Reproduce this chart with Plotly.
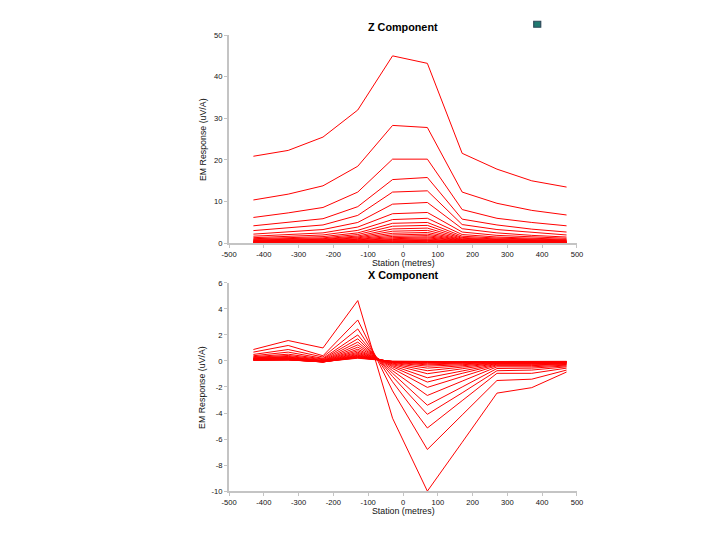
import plotly.graph_objects as go

stations = [-430, -330, -230, -130, -30, 70, 170, 270, 370, 470]

z_channels = [
    [20.9, 22.3, 25.5, 32.0, 45.0, 43.2, 21.6, 17.8, 15.0, 13.5],
    [10.4, 11.8, 13.8, 18.5, 28.3, 27.8, 12.3, 9.6, 7.9, 6.8],
    [6.2, 7.3, 8.6, 12.3, 20.2, 20.2, 8.1, 6.0, 5.0, 4.2],
    [4.2, 5.0, 5.9, 8.8, 15.3, 15.8, 5.8, 4.4, 3.4, 2.7],
    [3.05, 3.7, 4.4, 6.7, 12.3, 12.6, 4.5, 3.3, 2.6, 2.0],
    [2.2, 2.8, 3.3, 5.0, 9.4, 9.8, 3.5, 2.5, 1.9, 1.5],
    [1.7, 2.1, 2.5, 3.9, 7.1, 7.4, 2.7, 1.9, 1.5, 1.2],
    [1.35, 1.65, 2.0, 3.1, 5.7, 6.0, 2.1, 1.5, 1.2, 0.95],
    [1.1, 1.35, 1.6, 2.5, 4.8, 5.0, 1.7, 1.25, 1.0, 0.8],
    [0.95, 1.1, 1.3, 2.1, 4.1, 4.3, 1.4, 1.05, 0.85, 0.7],
    [0.8, 0.95, 1.1, 1.75, 3.45, 3.65, 1.2, 0.9, 0.72, 0.6],
    [0.7, 0.8, 0.95, 1.5, 2.9, 3.1, 1.0, 0.78, 0.62, 0.52],
    [0.6, 0.7, 0.82, 1.3, 2.4, 2.6, 0.88, 0.68, 0.55, 0.46],
    [0.52, 0.6, 0.72, 1.1, 2.0, 2.2, 0.77, 0.6, 0.48, 0.4],
    [0.45, 0.52, 0.62, 0.95, 1.65, 1.85, 0.68, 0.52, 0.43, 0.36],
    [0.4, 0.46, 0.54, 0.82, 1.35, 1.55, 0.6, 0.46, 0.38, 0.32],
    [0.35, 0.4, 0.47, 0.7, 1.1, 1.3, 0.52, 0.41, 0.34, 0.28],
    [0.3, 0.35, 0.41, 0.6, 0.9, 1.05, 0.45, 0.36, 0.3, 0.25],
    [0.26, 0.3, 0.36, 0.51, 0.74, 0.86, 0.4, 0.32, 0.27, 0.22],
    [0.22, 0.26, 0.31, 0.43, 0.6, 0.7, 0.35, 0.28, 0.24, 0.2],
    [0.19, 0.22, 0.26, 0.36, 0.48, 0.56, 0.3, 0.25, 0.21, 0.18],
    [0.16, 0.18, 0.22, 0.3, 0.38, 0.45, 0.26, 0.22, 0.18, 0.16],
    [0.13, 0.15, 0.18, 0.24, 0.3, 0.35, 0.22, 0.19, 0.16, 0.14],
    [0.1, 0.12, 0.14, 0.19, 0.23, 0.27, 0.18, 0.16, 0.13, 0.12],
    [0.08, 0.09, 0.11, 0.14, 0.17, 0.2, 0.14, 0.13, 0.11, 0.1],
    [0.06, 0.07, 0.08, 0.1, 0.12, 0.14, 0.11, 0.1, 0.09, 0.08],
    [0.04, 0.05, 0.06, 0.07, 0.08, 0.09, 0.08, 0.07, 0.06, 0.06],
    [0.02, 0.03, 0.03, 0.04, 0.05, 0.05, 0.05, 0.04, 0.04, 0.03],
]

x_channels = [
    [0.88, 1.57, 1.0, 4.64, -4.4, -10.0, -6.25, -2.47, -2.05, -0.85],
    [0.68, 1.19, 0.4, 3.15, -2.3, -6.8, -4.15, -1.5, -1.4, -0.7],
    [0.5, 0.88, 0.3, 2.46, -1.6, -5.15, -3.05, -0.95, -0.95, -0.55],
    [0.4, 0.68, 0.2, 2.0, -1.2, -4.1, -2.45, -0.75, -0.7, -0.45],
    [0.33, 0.52, 0.15, 1.7, -0.95, -3.4, -2.0, -0.58, -0.55, -0.38],
    [0.28, 0.42, 0.1, 1.45, -0.75, -2.65, -1.55, -0.45, -0.45, -0.32],
    [0.24, 0.35, 0.05, 1.24, -0.58, -2.03, -1.2, -0.36, -0.36, -0.27],
    [0.21, 0.3, 0.02, 1.06, -0.45, -1.62, -0.95, -0.3, -0.3, -0.23],
    [0.19, 0.26, 0.0, 0.9, -0.36, -1.29, -0.77, -0.25, -0.25, -0.2],
    [0.17, 0.23, -0.02, 0.78, -0.28, -0.98, -0.6, -0.21, -0.21, -0.17],
    [0.15, 0.2, -0.04, 0.67, -0.22, -0.75, -0.47, -0.18, -0.18, -0.15],
    [0.14, 0.18, -0.05, 0.58, -0.17, -0.55, -0.37, -0.15, -0.15, -0.13],
    [0.12, 0.16, -0.06, 0.5, -0.13, -0.4, -0.29, -0.13, -0.13, -0.11],
    [0.11, 0.14, -0.07, 0.44, -0.1, -0.3, -0.22, -0.11, -0.11, -0.1],
    [0.1, 0.12, -0.08, 0.39, -0.08, -0.22, -0.17, -0.09, -0.09, -0.08],
    [0.09, 0.11, -0.08, 0.35, -0.06, -0.16, -0.13, -0.08, -0.08, -0.07],
    [0.08, 0.1, -0.08, 0.31, -0.05, -0.12, -0.1, -0.07, -0.07, -0.06],
    [0.07, 0.09, -0.07, 0.27, -0.04, -0.09, -0.08, -0.06, -0.06, -0.05],
    [0.06, 0.08, -0.06, 0.24, -0.03, -0.07, -0.06, -0.05, -0.05, -0.04],
    [0.05, 0.07, -0.05, 0.21, -0.02, -0.05, -0.05, -0.04, -0.04, -0.03],
]

x_tickvals = [-500, -400, -300, -200, -100, 0, 100, 200, 300, 400, 500]
x_ticktext = ["-500", "-400", "-300", "-200", "-100", "0", "100", "200", "300", "400", "500"]
z_tickvals = [0, 10, 20, 30, 40, 50]
z_ticktext = ["0", "10", "20", "30", "40", "50"]
xc_tickvals = [-10, -8, -6, -4, -2, 0, 2, 4, 6]
xc_ticktext = ["-10", "-8", "-6", "-4", "-2", "0", "2", "4", "6"]

titles = ["Z Component", "X Component"]
x_title = "Station (metres)"
y_title = "EM Response (uV/A)"

W, H = 720, 540
# compensation for how the page ends up in the photograph
AX, SX = 16.6, 0.979
AY, SY = 11.25, 0.984


def px_x(p):
    return ((p - AX) / SX) / W


def px_y(p):
    return 1 - ((p - AY) / SY) / H


fig = go.Figure()

for ch in z_channels:
    fig.add_trace(go.Scatter(x=stations, y=ch, mode="lines", xaxis="x", yaxis="y",
                             line=dict(color="#ff0000", width=1), showlegend=False,
                             hoverinfo="skip"))
for ch in x_channels:
    fig.add_trace(go.Scatter(x=stations, y=ch, mode="lines", xaxis="x2", yaxis="y2",
                             line=dict(color="#ff0000", width=1), showlegend=False,
                             hoverinfo="skip"))

xdom = [px_x(229.3), px_x(576.7)]
tickfont = dict(family="Liberation Sans, Arial, sans-serif", size=7.6, color="#111111")
axis_common = dict(showgrid=False, zeroline=False, showline=True, linecolor="#c4c4c4",
                   linewidth=2, ticks="outside", ticklen=3, tickcolor="#c4c4c4",
                   tickwidth=1, tickfont=tickfont)

fig.update_layout(
    width=W, height=H, autosize=False,
    margin=dict(l=0, r=0, t=0, b=0),
    paper_bgcolor="white", plot_bgcolor="white",
    xaxis=dict(domain=xdom, range=[-500, 500], tickvals=x_tickvals, ticktext=x_ticktext,
               anchor="y", **axis_common),
    yaxis=dict(domain=[px_y(242.7), px_y(34.3)], range=[0, 50], tickvals=z_tickvals,
               ticktext=z_ticktext, anchor="x", **axis_common),
    xaxis2=dict(domain=xdom, range=[-500, 500], tickvals=x_tickvals, ticktext=x_ticktext,
                anchor="y2", **axis_common),
    yaxis2=dict(domain=[px_y(490.7), px_y(282.3)], range=[-10, 6], tickvals=xc_tickvals,
                ticktext=xc_ticktext, anchor="x2", **axis_common),
)

title_font = dict(family="Liberation Sans, Arial, sans-serif", size=10.8, color="#000000")
label_font = dict(family="Liberation Sans, Arial, sans-serif", size=8.8, color="#111111")
cx = px_x(403)
anns = [
    dict(text="<b>" + titles[0] + "</b>", x=cx, y=px_y(26), font=title_font),
    dict(text="<b>" + titles[1] + "</b>", x=cx, y=px_y(274.3), font=title_font),
    dict(text=x_title, x=cx, y=px_y(262.3), font=label_font),
    dict(text=x_title, x=cx, y=px_y(510.7), font=label_font),
    dict(text=y_title, x=px_x(202.7), y=px_y(139), font=label_font, textangle=-90),
    dict(text=y_title, x=px_x(202.7), y=px_y(387), font=label_font, textangle=-90),
]
for a in anns:
    fig.add_annotation(xref="paper", yref="paper", showarrow=False,
                       xanchor="center", yanchor="middle", **a)

fig.add_shape(type="rect", xref="paper", yref="paper",
              x0=px_x(533.5), x1=px_x(540.5), y0=px_y(26.5), y1=px_y(20.5),
              fillcolor="#1f7a70", line=dict(color="#2f4a5a", width=1.2))

fig.write_html("out.html")
